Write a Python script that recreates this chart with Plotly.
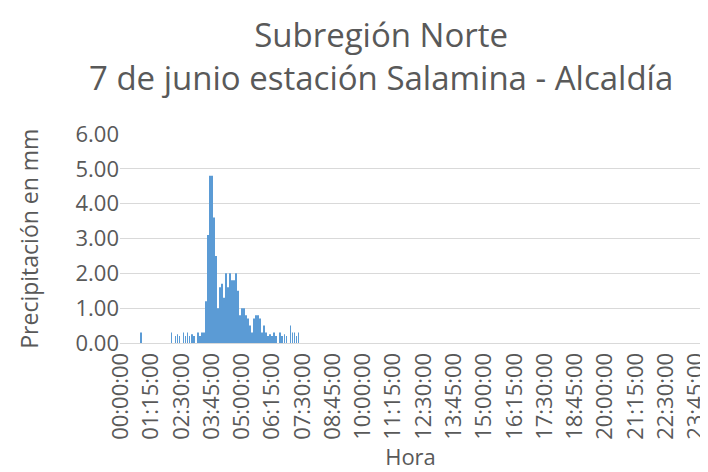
import plotly.graph_objects as go

# All 5-minute categories of the day (x-axis)
all_times = [f"{h:02d}:{m:02d}:00" for h in range(24) for m in range(0, 60, 5)]

# Tick labels shown on the x axis (every 1h15)
tick_labels = ["00:00:00", "01:15:00", "02:30:00", "03:45:00", "05:00:00", "06:15:00",
               "07:30:00", "08:45:00", "10:00:00", "11:15:00", "12:30:00", "13:45:00",
               "15:00:00", "16:15:00", "17:30:00", "18:45:00", "20:00:00", "21:15:00",
               "22:30:00", "23:45:00"]

# Times with rainfall and their values (mm)
rain_times = ["00:50:00",
              "02:05:00", "02:15:00", "02:20:00", "02:25:00", "02:35:00", "02:40:00",
              "02:45:00", "02:50:00", "02:55:00", "03:00:00", "03:10:00", "03:15:00",
              "03:20:00", "03:25:00", "03:30:00", "03:35:00", "03:40:00", "03:45:00",
              "03:50:00", "03:55:00", "04:00:00", "04:05:00", "04:10:00", "04:15:00",
              "04:20:00", "04:25:00", "04:30:00", "04:35:00", "04:40:00", "04:45:00",
              "04:50:00", "04:55:00", "05:00:00", "05:05:00", "05:10:00", "05:15:00",
              "05:20:00", "05:25:00", "05:30:00", "05:35:00", "05:40:00", "05:45:00",
              "05:50:00", "05:55:00", "06:00:00", "06:05:00", "06:10:00", "06:15:00",
              "06:20:00", "06:25:00", "06:35:00", "06:40:00", "06:45:00", "06:50:00",
              "07:00:00", "07:05:00", "07:10:00", "07:15:00", "07:20:00"]
rain_mm = [0.3,
           0.3, 0.2, 0.25, 0.2, 0.3, 0.2,
           0.3, 0.2, 0.25, 0.2, 0.3, 0.2,
           0.3, 0.3, 1.2, 3.1, 4.8, 4.8,
           3.6, 2.5, 1.0, 1.6, 1.7, 1.3,
           2.0, 1.6, 2.0, 1.8, 1.8, 2.0,
           1.5, 0.8, 1.0, 1.0, 0.8, 0.7,
           0.5, 0.3, 0.7, 0.8, 0.8, 0.7,
           0.3, 0.5, 0.3, 0.2, 0.25, 0.2,
           0.3, 0.2, 0.3, 0.2, 0.25, 0.2,
           0.5, 0.3, 0.3, 0.2, 0.3]

FONT = "Open Sans"
GRAY = "#595959"

fig = go.Figure(go.Bar(
    x=rain_times, y=rain_mm,
    marker=dict(color="#5B9BD5", line=dict(width=0)),
))

fig.update_layout(
    width=708, height=472,
    margin=dict(l=112, r=7, t=126, b=137),
    paper_bgcolor="white", plot_bgcolor="white",
    bargap=0.6,
    showlegend=False,
    font=dict(family=FONT, color=GRAY),
    title=dict(
        text="Subregión Norte<br>7 de junio estación Salamina - Alcaldía",
        x=0.527, xanchor="center", xref="container",
        y=0.918, yanchor="top", yref="container",
        font=dict(family=FONT, size=33, color=GRAY),
    ),
    annotations=[dict(
        text="Precipitación en mm",
        xref="paper", yref="paper",
        x=-93 / 589, y=0.5,
        xanchor="center", yanchor="middle",
        textangle=-90, showarrow=False,
        font=dict(family=FONT, size=23, color=GRAY),
    )],
)

fig.update_xaxes(
    type="category",
    categoryorder="array", categoryarray=all_times,
    range=[-0.5, len(all_times) - 0.5],
    tickmode="array", tickvals=tick_labels, ticktext=tick_labels,
    tickangle=-90,
    tickfont=dict(family=FONT, size=22, color=GRAY),
    ticklabelstandoff=0,
    showgrid=False,
    showline=True, linecolor="#D9D9D9", linewidth=1,
    ticks="",
    title=dict(text="Hora", font=dict(family=FONT, size=22, color=GRAY), standoff=10),
)

fig.update_yaxes(
    range=[0, 6],
    tickvals=[0, 1, 2, 3, 4, 5, 6],
    tickformat=".2f",
    tickfont=dict(family=FONT, size=22, color=GRAY),
    ticks="",
    showgrid=True, gridcolor="#D9D9D9", gridwidth=1,
    zeroline=False,
    showline=False,
)

fig.write_html("out.html")
